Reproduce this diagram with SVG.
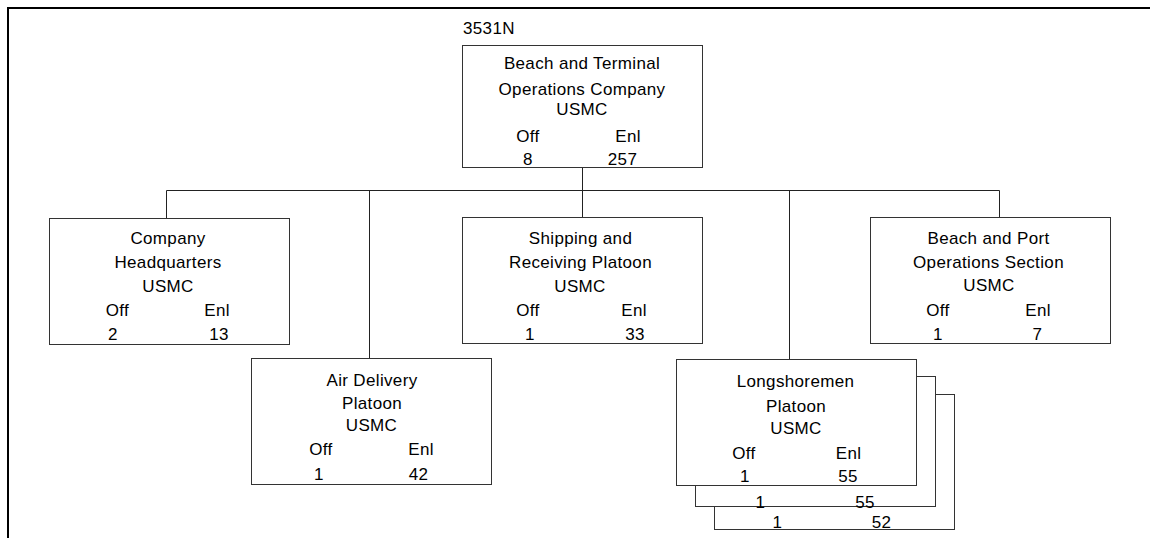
<svg xmlns="http://www.w3.org/2000/svg" width="1150" height="538" viewBox="0 0 1150 538">
<style>
.box{fill:#fff;stroke:#333;stroke-width:1}
.ln{fill:none;stroke:#222;stroke-width:1}
.fr{fill:none;stroke:#000;stroke-width:2}
text{font-family:"Liberation Sans",Arial,sans-serif;font-size:17px;letter-spacing:0.35px;fill:#000;text-anchor:middle}
.st{text-anchor:start}
</style>
<rect width="1150" height="538" fill="#fff"/>
<g id="frame">
<line class="fr" x1="7" y1="8" x2="1150" y2="8"/>
<line class="fr" x1="8" y1="7" x2="8" y2="538"/>
</g>
<g id="connectors">
<line class="ln" x1="582.5" y1="167.5" x2="582.5" y2="190.5"/>
<line class="ln" x1="166.5" y1="190.5" x2="999.5" y2="190.5"/>
<line class="ln" x1="166.5" y1="190.5" x2="166.5" y2="218.5"/>
<line class="ln" x1="369.5" y1="190.5" x2="369.5" y2="358.5"/>
<line class="ln" x1="582.5" y1="190.5" x2="582.5" y2="217.5"/>
<line class="ln" x1="789.5" y1="190.5" x2="789.5" y2="359.5"/>
<line class="ln" x1="999.5" y1="190.5" x2="999.5" y2="217.5"/>
</g>
<g id="label-3531N">
<text class="st" x="463" y="34">3531N</text>
</g>
<g id="node-company">
<rect class="box" x="462.5" y="45.5" width="240" height="122"/>
<text x="582" y="69">Beach and Terminal</text>
<text x="582" y="95">Operations Company</text>
<text x="582" y="115">USMC</text>
<text x="528" y="141.5">Off</text>
<text x="628" y="141.5">Enl</text>
<text x="528" y="165">8</text>
<text x="622.5" y="165">257</text>
</g>
<g id="node-hq">
<rect class="box" x="49.5" y="218.5" width="240" height="126"/>
<text x="168" y="244">Company</text>
<text x="168" y="268">Headquarters</text>
<text x="168" y="291.5">USMC</text>
<text x="117.5" y="316">Off</text>
<text x="217" y="316">Enl</text>
<text x="113" y="340">2</text>
<text x="219" y="340">13</text>
</g>
<g id="node-shipping">
<rect class="box" x="462.5" y="217.5" width="240" height="126"/>
<text x="580.5" y="243.5">Shipping and</text>
<text x="580.5" y="268">Receiving Platoon</text>
<text x="580" y="291.5">USMC</text>
<text x="528" y="316">Off</text>
<text x="634" y="316">Enl</text>
<text x="530" y="339.5">1</text>
<text x="635" y="339.5">33</text>
</g>
<g id="node-beachport">
<rect class="box" x="870.5" y="217.5" width="240" height="126"/>
<text x="988.5" y="243.5">Beach and Port</text>
<text x="988.5" y="267.5">Operations Section</text>
<text x="989" y="291">USMC</text>
<text x="938" y="316">Off</text>
<text x="1038" y="316">Enl</text>
<text x="938" y="340">1</text>
<text x="1037.5" y="340">7</text>
</g>
<g id="node-air">
<rect class="box" x="251.5" y="358.5" width="240" height="126"/>
<text x="372" y="385.5">Air Delivery</text>
<text x="372" y="408.5">Platoon</text>
<text x="371.5" y="431">USMC</text>
<text x="321" y="455">Off</text>
<text x="421" y="455">Enl</text>
<text x="319" y="480">1</text>
<text x="418.5" y="480">42</text>
</g>
<g id="node-longshoremen">
<rect class="box" x="714.5" y="394.5" width="240" height="135"/>
<text x="777.5" y="528.3">1</text>
<text x="881.5" y="528.3">52</text>
<rect class="box" x="695.5" y="376.5" width="240" height="130"/>
<text x="760.5" y="507.5">1</text>
<text x="865" y="507.5">55</text>
<rect class="box" x="676.5" y="359.5" width="240" height="126"/>
<text x="795.5" y="386.5">Longshoremen</text>
<text x="796" y="411.5">Platoon</text>
<text x="796" y="434">USMC</text>
<text x="744" y="458.5">Off</text>
<text x="848.5" y="458.5">Enl</text>
<text x="745" y="481.5">1</text>
<text x="848" y="481.5">55</text>
</g>
</svg>
